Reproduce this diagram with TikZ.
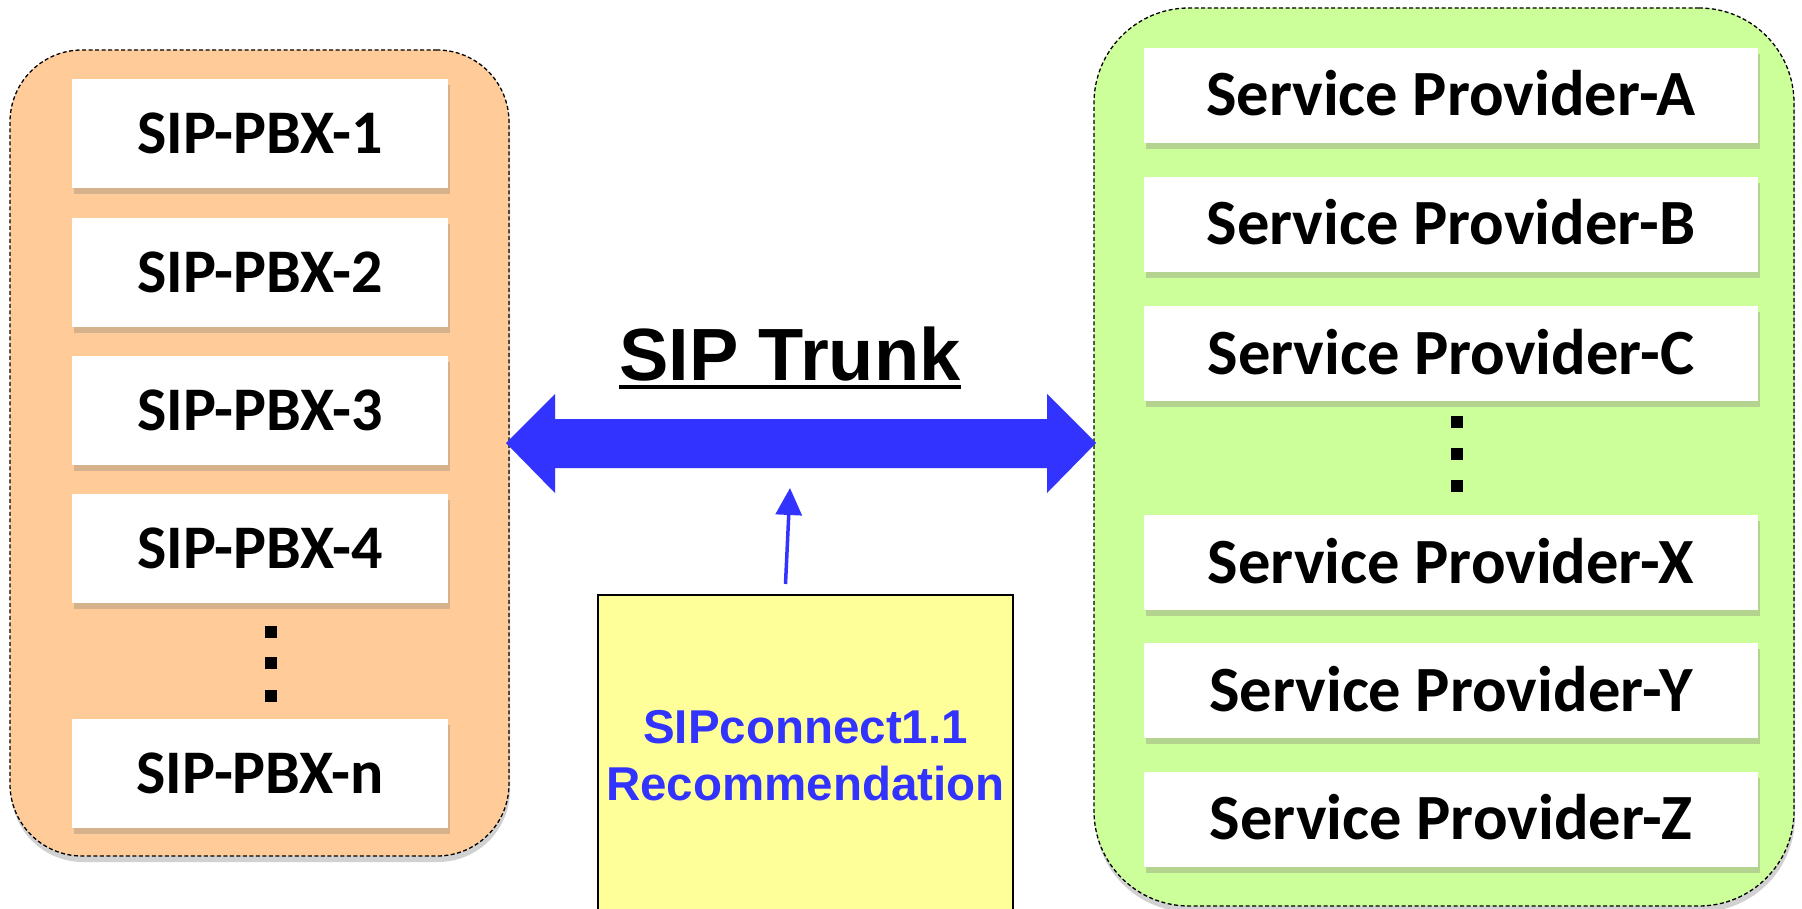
\documentclass[tikz,border=0pt]{standalone}
\usepackage{fontspec}
\newfontfamily\carlito{Carlito}
\newfontfamily\libsans{Liberation Sans}
\usetikzlibrary{shadows,calc,arrows.meta}
\definecolor{peach}{HTML}{FFCC99}
\definecolor{lime}{HTML}{CCFF99}
\definecolor{peachshade}{HTML}{D6B28C}
\definecolor{limeshade}{HTML}{B3D38F}
\definecolor{trunkblue}{HTML}{3333FF}
\definecolor{notefill}{HTML}{FFFF99}

\begin{document}
\begin{tikzpicture}[x=1pt,y=-1pt,
  group/.style={draw=black, line width=1.3pt, dash pattern=on 4pt off 2.5pt,
    inner sep=0pt, outer sep=0pt,
    drop shadow={fill=black, opacity=0.18, shadow xshift=1pt, shadow yshift=-6pt}},
  entry/.style={fill=white, inner sep=0pt, text depth=0pt},
  pbx/.style={entry, minimum width=376pt, minimum height=109pt, text height=40pt,
    font=\carlito\bfseries\fontsize{62}{70}\selectfont,
    drop shadow={fill=peachshade, opacity=1, shadow xshift=1.5pt, shadow yshift=-6pt}},
  provider/.style={entry, minimum width=614pt, minimum height=95pt, text height=41pt,
    font=\carlito\bfseries\fontsize{64.5}{72}\selectfont,
    drop shadow={fill=limeshade, opacity=1, shadow xshift=1.5pt, shadow yshift=-6pt}},
  note/.style={draw=black, line width=2pt, fill=notefill, inner sep=0pt,
    align=center, text=trunkblue,
    font=\libsans\bfseries\fontsize{47.5}{57}\selectfont},
  pointer/.style={trunkblue, line width=3.5pt, -{Triangle[width=26pt,length=27pt]}},
]
\useasboundingbox (0,0) rectangle (1802,909);
\fill[white] (0,0) rectangle (1802,909);

% the two groups
\node[group, fill=peach, rounded corners=72pt, minimum width=499pt, minimum height=806pt]
  (pbxgroup) at (259.5,453) {};
\node[group, fill=lime, rounded corners=95pt, minimum width=700pt, minimum height=898pt]
  (spgroup) at (1444,457) {};

% SIP PBXs
\node[pbx] (pbx1) at (260,133.5) {SIP-PBX-1};
\node[pbx] (pbx2) at (260,272.5) {SIP-PBX-2};
\node[pbx] (pbx3) at (260,410.5) {SIP-PBX-3};
\node[pbx] (pbx4) at (260,548.5) {SIP-PBX-4};
\node[pbx] (pbxn) at (260,773.5) {SIP-PBX-n};
\fill[black] (265,626) rectangle ++(12,12);
\fill[black] (265,657) rectangle ++(12,12);
\fill[black] (265,690) rectangle ++(12,12);

% service providers
\node[provider] (spa) at (1451,95.5) {Service Provider-A};
\node[provider] (spb) at (1451,224.5) {Service Provider-B};
\node[provider] (spc) at (1451,353.5) {Service Provider-C};
\node[provider] (spx) at (1451,562.5) {Service Provider-X};
\node[provider] (spy) at (1451,690.5) {Service Provider-Y};
\node[provider] (spz) at (1451,819) {Service Provider-Z};
\fill[black] (1451,416) rectangle ++(12,12);
\fill[black] (1451,448) rectangle ++(12,12);
\fill[black] (1451,480) rectangle ++(12,12);

% the trunk: a double block arrow between the two groups
\coordinate (tl) at ([xshift=-3pt,yshift=10pt]pbxgroup.east);
\coordinate (tr) at ([xshift=2pt,yshift=14pt]spgroup.west);
\fill[black, opacity=0.15, shift={(2,5)}]
  (tl) -- ($(tl)+(49,-49)$) -- ($(tl)+(49,-24)$) -- ($(tr)+(-49,-24)$)
  -- ($(tr)+(-49,-49)$) -- (tr) -- ($(tr)+(-49,50)$) -- ($(tr)+(-49,25)$)
  -- ($(tl)+(49,25)$) -- ($(tl)+(49,50)$) -- cycle;
\fill[trunkblue]
  (tl) -- ($(tl)+(49,-49)$) -- ($(tl)+(49,-24)$) -- ($(tr)+(-49,-24)$)
  -- ($(tr)+(-49,-49)$) -- (tr) -- ($(tr)+(-49,50)$) -- ($(tr)+(-49,25)$)
  -- ($(tl)+(49,25)$) -- ($(tl)+(49,50)$) -- cycle;

\node[anchor=base west, inner sep=0pt, font=\libsans\bfseries\fontsize{74}{80}\selectfont]
  (trunklabel) at (619,380) {SIP Trunk};
\draw[line width=3.5pt] ([yshift=-7pt]trunklabel.base west) -- ([yshift=-7pt]trunklabel.base east);

% recommendation note
\node[note, minimum width=415pt, minimum height=321pt] (rec) at (805.5,755.5)
  {SIPconnect1.1\\Recommendation};
\coordinate (ptr) at (790,488);
\draw[pointer] ([xshift=-20pt,yshift=10pt]rec.north) -- (ptr);
\end{tikzpicture}
\end{document}
